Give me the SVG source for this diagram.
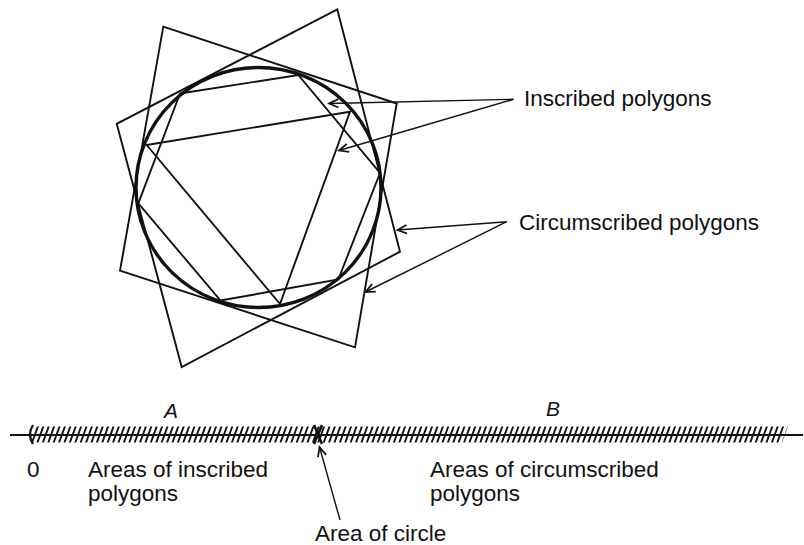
<svg xmlns="http://www.w3.org/2000/svg" width="804" height="545" viewBox="0 0 804 545">
<style>
text{font-family:"Liberation Sans",Arial,sans-serif;font-size:22.5px;fill:#111}
.it{font-style:italic;font-size:21px}
.poly{fill:none;stroke:#111;stroke-width:1.9;stroke-linejoin:miter}
.lead{fill:none;stroke:#111;stroke-width:1.4}
</style>
<defs>
<marker id="open" markerUnits="userSpaceOnUse" markerWidth="14" markerHeight="14" refX="0" refY="0" viewBox="-10 -6 12 12" orient="auto">
<path d="M-8,-3.6 L0,0 L-8,3.6" fill="none" stroke="#111" stroke-width="1.5"/>
</marker>
</defs>
<rect width="804" height="545" fill="#fff"/>
<g id="circle"><ellipse cx="258.5" cy="187.5" rx="122.5" ry="120" fill="none" stroke="#111" stroke-width="3.4"/></g>
<g id="square1"><polygon class="poly" points="163.3,26.7 396.7,103.5 355,347.3 120,270.7"/></g>
<g id="square2"><polygon class="poly" points="337.3,9.5 400,251.7 181.7,367 116.7,123.8"/></g>
<g id="triangle"><polygon class="poly" points="146.7,145 350,111.7 280,304"/></g>
<g id="hexagon"><polygon class="poly" points="180,93.5 298.3,75 380,173 338.3,279.5 220.5,300.5 138.3,203.3"/></g>
<g id="label-inscribed"><text x="524" y="106">Inscribed polygons</text></g>
<g id="label-circumscribed"><text x="519" y="230">Circumscribed polygons</text></g>
<g id="numberline">
<line x1="10" y1="435" x2="803" y2="435" stroke="#111" stroke-width="2"/>
<line x1="34" y1="434.5" x2="785" y2="434.5" stroke="#111" stroke-width="16" stroke-dasharray="2 3.4" transform="translate(0,434.5) skewX(-20) translate(0,-434.5)"/>
<path d="M33,425 Q27,434.5 33,444" fill="none" stroke="#111" stroke-width="2.2"/>
<path d="M314,425 L322,444 M322,425 L314,444" fill="none" stroke="#111" stroke-width="2.6"/>
<text class="it" x="171" y="418" text-anchor="middle">A</text>
<text class="it" x="553" y="416" text-anchor="middle">B</text>
</g>
<g id="label-zero"><text x="27" y="477">0</text></g>
<g id="label-areas-inscribed"><text x="88" y="477">Areas of inscribed</text><text x="88" y="501">polygons</text></g>
<g id="label-areas-circumscribed"><text x="430" y="477">Areas of circumscribed</text><text x="430" y="501">polygons</text></g>
<g id="label-circle"><text x="315" y="541">Area of circle</text></g>
<g id="connectors">
<line class="lead" x1="513.5" y1="99.3" x2="329" y2="103.5" marker-end="url(#open)"/>
<line class="lead" x1="513.5" y1="99.3" x2="339" y2="150.5" marker-end="url(#open)"/>
<line class="lead" x1="506.7" y1="221.7" x2="397.5" y2="230" marker-end="url(#open)"/>
<line class="lead" x1="506.7" y1="221.7" x2="365.5" y2="292" marker-end="url(#open)"/>
<line class="lead" x1="340" y1="520" x2="319.5" y2="447" marker-end="url(#open)"/>
</g>
</svg>
